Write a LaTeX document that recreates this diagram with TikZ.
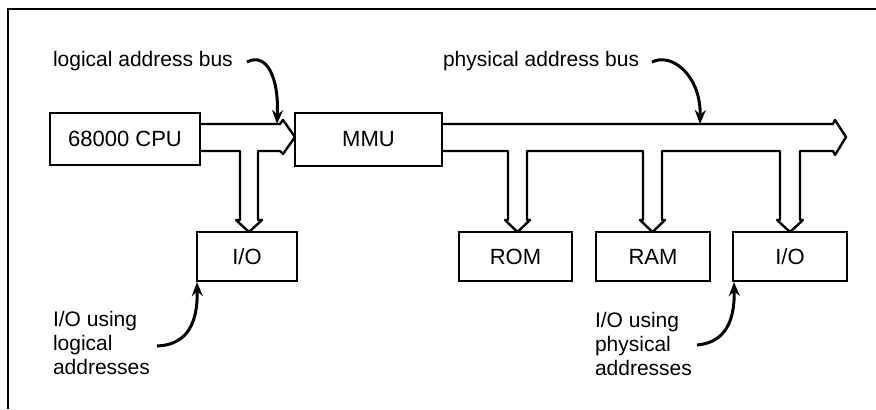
\documentclass[tikz,border=0pt]{standalone}
\usepackage{fontspec}
\setmainfont{Liberation Sans}
\usetikzlibrary{arrows.meta}
\begin{document}
\begin{tikzpicture}[x=0.5pt,y=-0.5pt,
  box/.style={draw,line width=1.2pt,inner sep=0pt,outer sep=0pt,font=\fontsize{11}{13}\selectfont},
  bus/.style={draw,line width=1.2pt,line join=round},
  lab/.style={inner sep=0pt,outer sep=0pt,font=\fontsize{10.5}{12}\selectfont},
  pointer/.style={line width=1.5pt,-{Stealth[length=7pt,width=5.5pt]}},
  frame/.style={line width=1.3pt}]
\useasboundingbox (0,0) rectangle (876,409);
% frame (top and left edges only)
\draw[frame] (876,9) -- (8,9) -- (8,409);
% boxes
\node[box,minimum width=75pt,minimum height=26pt] (cpu) at (125,139) {68000 CPU};
\node[box,minimum width=73.5pt,minimum height=26.5pt] (mmu) at (368.5,139.5) {MMU};
\node[box,minimum width=50pt,minimum height=24.5pt] (io1) at (247,256.5) {I/O};
\node[box,minimum width=56.5pt,minimum height=24.5pt] (rom) at (515.5,256.5) {ROM};
\node[box,minimum width=57pt,minimum height=24.5pt] (ram) at (653,256.5) {RAM};
\node[box,minimum width=57pt,minimum height=24.5pt] (io2) at (790,256.5) {I/O};
% logical address bus (CPU -> MMU, branch to I/O)
\draw[bus] (200,124) -- (280,124) -- (283,120) -- (295,137) -- (283,154) -- (280,151)
  -- (258,151) -- (258,220) -- (262,220) -- (249,232) -- (236,220) -- (240,220)
  -- (240,151) -- (200,151);
% physical address bus
\draw[bus] (442,124) -- (833,124) -- (835,120) -- (846,137) -- (835,155) -- (833,151)
  -- (800,151) -- (800,220) -- (803,220) -- (790,232) -- (777,220) -- (780,220) -- (780,151)
  -- (662,151) -- (662,220) -- (665,220) -- (652.5,232) -- (640,220) -- (643,220) -- (643,151)
  -- (527,151) -- (527,220) -- (530,220) -- (517.5,232) -- (505,220) -- (508,220) -- (508,151)
  -- (442,151);
% labels
\node[lab,anchor=base west] (llab) at (53,66) {logical address bus};
\node[lab,anchor=base west] (plab) at (443,66) {physical address bus};
\node[lab,anchor=base west] (lio1) at (53,326) {I/O using};
\node[lab,anchor=base west] (lio2) at (53,350) {logical};
\node[lab,anchor=base west] (lio3) at (53,374) {addresses};
\node[lab,anchor=base west] (pio1) at (595,327) {I/O using};
\node[lab,anchor=base west] (pio2) at (595,351) {physical};
\node[lab,anchor=base west] (pio3) at (595,375) {addresses};
% pointer arrows
\coordinate (lbus) at (277,124);
\coordinate (pbus) at (700,124);
\coordinate (lioc) at (197,282);
\coordinate (pioc) at (734,282);
\draw[pointer] (247,62) .. controls (266,52) and (279,76) .. (lbus);
\draw[pointer] (652,62) .. controls (672,52) and (701,76) .. (pbus);
\draw[pointer] (157,346) .. controls (182,345) and (198,330) .. (lioc);
\draw[pointer] (697,345) .. controls (720,343) and (735,328) .. (pioc);
\end{tikzpicture}
\end{document}
